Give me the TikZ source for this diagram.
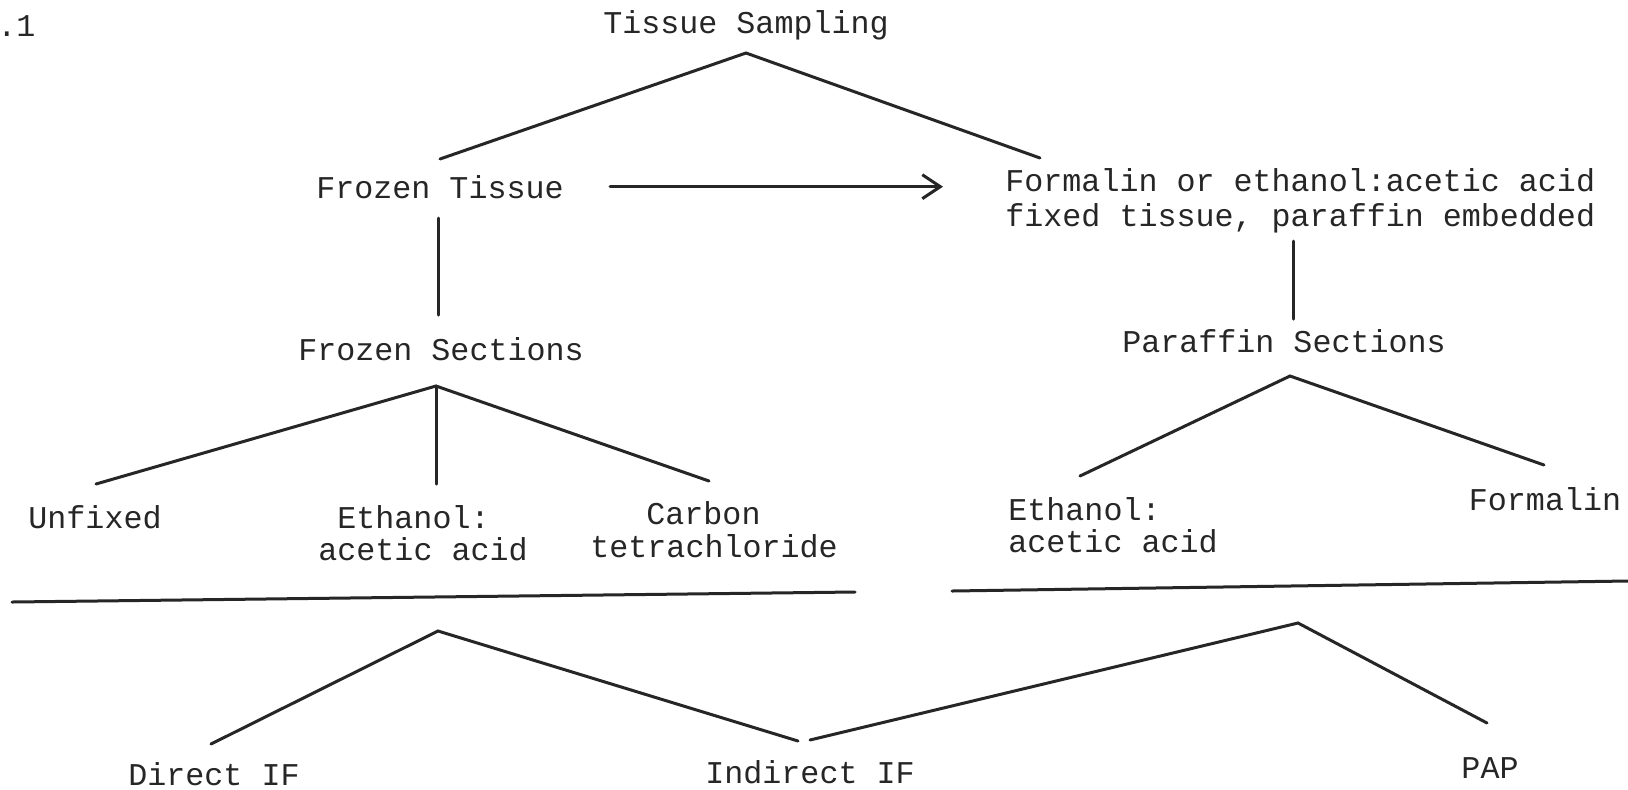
\documentclass[tikz,border=0pt]{standalone}
\usepackage{fontspec}
\newfontfamily\typew{Liberation Mono}
\usetikzlibrary{arrows.meta}
\begin{document}
\begin{tikzpicture}[x=0.5pt,y=-0.5pt,
  every node/.style={inner sep=0pt, font=\typew\fontsize{15.85}{19}\selectfont, text=black!85},
  ln/.style={line width=1.5pt, line cap=round, draw=black!85},
  arr/.style={ln, -{Straight Barb[length=9pt,width=12pt,line width=1.5pt]}}]
\useasboundingbox[fill=white] (0,0) rectangle (1628,789);
% texts
\node[anchor=base west] (fig) at (-3,36) {.1};
\node[anchor=base] (ts) at (746,33) {Tissue Sampling};
\node[anchor=base] (ft) at (440,198) {Frozen Tissue};
\node[anchor=base west] (fx1) at (1005,191) {Formalin or ethanol:acetic acid};
\node[anchor=base west] (fx2) at (1005,226) {fixed tissue, paraffin embedded};
\node[anchor=base] (fs) at (441,360) {Frozen Sections};
\node[anchor=base] (ps) at (1284,352) {Paraffin Sections};
\node[anchor=base] (unf) at (95,528) {Unfixed};
\node[anchor=base west] (ea1) at (337,528) {Ethanol:};
\node[anchor=base west] (ea2) at (318,560) {acetic acid};
\node[anchor=base west] (cb1) at (646,524) {Carbon};
\node[anchor=base west] (cb2) at (590,557) {tetrachloride};
\node[anchor=base west] (pe1) at (1008,520) {Ethanol:};
\node[anchor=base west] (pe2) at (1008,552) {acetic acid};
\node[anchor=base] (pf) at (1545,510) {Formalin};
\node[anchor=base] (dif) at (214,785) {Direct IF};
\node[anchor=base] (iif) at (810,783) {Indirect IF};
\node[anchor=base] (pap) at (1490,778) {PAP};
% connector end points
\coordinate (tsA) at (746,53);
\coordinate (tsL) at (440,159);
\coordinate (tsR) at (1040,158);
\coordinate (ftB) at (438,218);
\coordinate (fsT) at (438,315);
\coordinate (fxB) at (1293,241);
\coordinate (psT) at (1293,319);
\coordinate (fsA) at (436,386);
\coordinate (unfT) at (96,484);
\coordinate (eaT) at (436,484);
\coordinate (cbT) at (709,481);
\coordinate (psA) at (1290,376);
\coordinate (peT) at (1080,476);
\coordinate (pfT) at (1544,465);
\coordinate (hl1) at (12,602);
\coordinate (hl2) at (855,592);
\coordinate (hr1) at (952,591);
\coordinate (hr2) at (1628,581);
\coordinate (bA) at (438,631);
\coordinate (difT) at (211,744);
\coordinate (iifL) at (798,741);
\coordinate (iifR) at (810,740);
\coordinate (bB) at (1298,623);
\coordinate (papT) at (1487,723);
% connectors
\draw[ln] (tsL) -- (tsA) -- (tsR);
\draw[arr] ([xshift=23pt]ft.east) -- ([xshift=-31pt]ft.east -| fx1.west);
\draw[ln] (ftB) -- (fsT);
\draw[ln] (fxB) -- (psT);
\draw[ln] (unfT) -- (fsA) -- (cbT);
\draw[ln] (fsA) -- (eaT);
\draw[ln] (peT) -- (psA) -- (pfT);
\draw[ln] (hl1) -- (hl2);
\draw[ln] (hr1) -- (hr2);
\draw[ln] (difT) -- (bA) -- (iifL);
\draw[ln] (iifR) -- (bB) -- (papT);
\end{tikzpicture}
\end{document}
